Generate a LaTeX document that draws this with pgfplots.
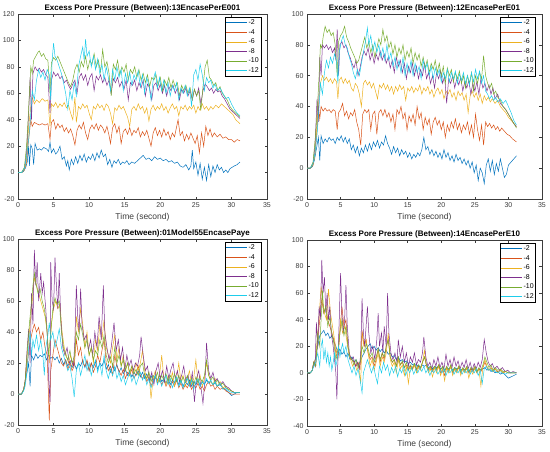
\documentclass[border=0pt]{standalone}
\usepackage{fontspec}
\setmainfont{Liberation Sans}
\usepackage{pgfplots}
\pgfplotsset{compat=1.18}
\definecolor{m1}{RGB}{0,114,189}
\definecolor{m2}{RGB}{217,83,25}
\definecolor{m3}{RGB}{237,177,32}
\definecolor{m4}{RGB}{126,47,142}
\definecolor{m5}{RGB}{119,172,48}
\definecolor{m6}{RGB}{30,205,235}
\definecolor{axc}{RGB}{60,60,60}
\pgfplotscreateplotcyclelist{matlab}{
{m1,line width=0.5pt},{m2,line width=0.5pt},{m3,line width=0.5pt},{m4,line width=0.5pt},{m5,line width=0.5pt},{m6,line width=0.5pt}}
\pgfplotsset{
  every axis title shift=0pt,
  mstyle/.style={
    scale only axis, anchor=south west,
    xmin=0, xmax=35, xtick={0,5,...,35},
    tick align=inside, major tick length=2.5pt,
    axis line style={axc, line width=0.5pt},
    tick style={axc, line width=0.5pt},
    /pgf/number format/assume math mode=true,
    ticklabel style={font=\fontsize{7}{8}\selectfont, text=axc},
    xlabel={Time (second)},
    xlabel style={font=\fontsize{8.5}{9}\selectfont, text=axc, yshift=1pt},
    title style={font=\fontsize{8}{9}\selectfont\bfseries, at={(0.5,1)}, anchor=base, yshift=3.5pt},
    cycle list name=matlab,
    legend entries={-2,-4,-6,-8,-10,-12},
    legend cell align=left,
    legend style={at={(1,1)}, anchor=north east, xshift=-6pt, yshift=-3pt,
      draw=black, line width=0.5pt, font=\fontsize{7}{8}\selectfont,
      inner sep=1pt, row sep=1pt,
      nodes={inner sep=1pt, text height=5.3pt, text depth=1.3pt}},
    legend image code/.code={\draw[#1] (0pt,0pt) -- (21pt,0pt);},
  }
}
\begin{document}
\begin{tikzpicture}
\path[use as bounding box] (0,0) rectangle (550pt,451pt);
% ---------- Panel 1 ----------
\begin{axis}[mstyle, at={(18pt,252pt)}, width=249pt, height=185pt,
  ymin=-20, ymax=120, ytick={-20,0,...,120},
  title={Excess Pore Pressure (Between):13EncasePerE001}]
\addplot coordinates {(0,0)(0.5,0)(0.8,1)(1.1,4)(1.3,8)(1.5,20)(1.6,5)(1.8,21)(2.0,18)(2.2,6)(2.4,22)(2.7,17)(3.0,18)(3.3,17)(3.6,19)(4.0,18)(4.3,16)(4.5,23)(4.7,15)(5.0,18)(5.3,14)(5.6,16)(5.9,20)(6.2,10)(6.5,12)(6.8,5)(7.0,9)(7.2,2)(7.5,10)(7.8,6)(8.1,12)(8.4,7)(8.7,13)(9.0,9)(9.3,14)(9.6,8)(9.9,12)(10.2,10)(10.5,14)(10.8,9)(11.1,15)(11.4,11)(11.7,17)(12.0,12)(12.3,14)(12.6,6)(12.9,10)(13.2,4)(13.5,9)(13.8,7)(14.1,10)(14.4,6)(14.7,8)(15.0,7)(15.3,9)(15.6,6)(16.0,8)(16.4,7)(16.8,9)(17.2,11)(17.6,13)(18.0,10)(18.4,11)(18.8,9)(19.2,12)(19.6,10)(20.0,11)(20.4,9)(20.8,10)(21.2,8)(21.6,9)(22.0,7)(22.4,8)(22.8,5)(23.2,4)(23.6,6)(24.0,2)(24.3,5)(24.5,17)(24.7,3)(25.0,8)(25.3,-2)(25.6,7)(25.9,-5)(26.2,4)(26.5,-6)(26.8,6)(27.1,-3)(27.4,5)(27.7,0)(28.0,6)(28.3,2)(28.6,4)(28.9,0)(29.2,2)(29.5,0)(29.8,3)(30.1,4)(30.4,5)(30.8,6)(31.2,8)};
\addplot coordinates {(0,0)(0.5,0)(0.9,2)(1.2,8)(1.4,20)(1.6,30)(1.8,40)(2.0,35)(2.3,38)(2.6,37)(3.0,36)(3.4,37)(3.8,36)(4.2,37)(4.5,25)(4.7,38)(5.0,40)(5.3,33)(5.6,37)(5.9,34)(6.2,36)(6.5,31)(6.8,34)(7.1,30)(7.4,33)(7.7,28)(8.0,21)(8.3,32)(8.6,36)(8.9,33)(9.2,38)(9.5,30)(9.8,25)(10.1,33)(10.4,36)(10.7,33)(11.0,37)(11.3,32)(11.6,36)(11.9,34)(12.2,30)(12.5,35)(12.8,28)(13.0,22)(13.3,34)(13.6,37)(13.9,30)(14.2,35)(14.5,22)(14.8,31)(15.1,33)(15.4,29)(15.7,34)(16.0,28)(16.3,32)(16.6,30)(16.9,34)(17.2,27)(17.5,31)(17.8,28)(18.1,32)(18.4,26)(18.7,20)(19.0,30)(19.3,34)(19.6,28)(19.9,32)(20.2,27)(20.5,33)(20.8,28)(21.1,31)(21.4,25)(21.7,30)(22.0,27)(22.5,40)(22.8,28)(23.1,31)(23.4,24)(23.7,29)(24.0,25)(24.3,30)(24.6,26)(24.9,22)(25.2,28)(25.5,15)(25.8,30)(26.1,20)(26.4,35)(26.7,28)(27.0,33)(27.3,27)(27.6,30)(28.0,27)(28.4,29)(28.8,26)(29.2,27)(29.6,25)(30.0,25)(30.4,23)(30.8,25)(31.2,24)};
\addplot coordinates {(0,0)(0.5,0)(0.9,2)(1.2,10)(1.5,35)(1.8,50)(2.0,57)(2.3,52)(2.6,55)(3.0,53)(3.4,56)(3.8,54)(4.2,55)(4.5,35)(4.7,52)(5.0,50)(5.3,53)(5.6,49)(5.9,52)(6.2,50)(6.5,53)(6.8,49)(7.1,51)(7.4,45)(7.7,40)(8.0,57)(8.2,38)(8.5,50)(8.8,48)(9.1,52)(9.4,49)(9.7,51)(10.0,45)(10.3,40)(10.6,50)(10.9,48)(11.2,52)(11.5,49)(11.8,51)(12.1,47)(12.4,52)(12.7,50)(13.0,45)(13.3,37)(13.6,49)(13.9,47)(14.2,51)(14.5,48)(14.8,50)(15.1,46)(15.4,42)(15.7,35)(16.0,48)(16.3,50)(16.6,47)(16.9,52)(17.2,48)(17.5,50)(17.8,45)(18.1,49)(18.4,39)(18.7,48)(19.0,51)(19.3,47)(19.6,50)(19.9,48)(20.2,52)(20.5,47)(20.8,50)(21.1,45)(21.4,49)(21.7,52)(22.0,48)(22.3,50)(22.6,43)(22.9,50)(23.2,48)(23.5,51)(23.8,47)(24.1,50)(24.4,48)(24.7,51)(25.0,45)(25.3,50)(25.6,47)(25.9,52)(26.2,48)(26.5,50)(26.8,47)(27.1,50)(27.4,48)(27.8,51)(28.2,49)(28.6,52)(29.0,50)(29.4,48)(29.8,46)(30.2,44)(30.6,40)(31.2,37)};
\addplot coordinates {(0,0)(0.5,0)(0.9,3)(1.2,15)(1.5,45)(1.7,72)(1.9,40)(2.1,75)(2.4,80)(2.7,77)(3.0,79)(3.3,76)(3.6,78)(3.9,74)(4.2,72)(4.5,45)(4.7,70)(5.0,76)(5.3,73)(5.6,75)(5.9,71)(6.2,73)(6.5,68)(6.8,70)(7.1,66)(7.4,63)(7.7,67)(8.0,70)(8.3,60)(8.6,72)(8.9,75)(9.2,70)(9.5,74)(9.8,66)(10.1,72)(10.4,75)(10.7,62)(11.0,73)(11.3,70)(11.6,74)(11.9,68)(12.2,72)(12.5,66)(12.8,70)(13.1,60)(13.4,71)(13.7,68)(14.0,72)(14.3,65)(14.6,69)(14.9,63)(15.2,70)(15.5,55)(15.8,68)(16.1,66)(16.4,70)(16.7,62)(17.0,68)(17.3,64)(17.6,70)(17.9,58)(18.2,67)(18.5,64)(18.8,55)(19.1,66)(19.4,68)(19.7,62)(20.0,67)(20.3,60)(20.6,66)(20.9,58)(21.2,65)(21.5,62)(21.8,66)(22.1,60)(22.4,64)(22.7,55)(23.0,63)(23.3,60)(23.6,64)(23.9,58)(24.2,62)(24.5,55)(24.8,63)(25.1,58)(25.4,64)(25.7,52)(26.0,62)(26.3,67)(26.6,65)(26.9,62)(27.2,64)(27.5,60)(27.8,63)(28.1,61)(28.4,62)(28.7,58)(29.0,56)(29.4,52)(29.8,48)(30.2,46)(30.6,44)(31.2,41)};
\addplot coordinates {(0,0)(0.5,0)(0.9,4)(1.2,20)(1.4,38)(1.6,60)(1.8,80)(2.0,75)(2.2,85)(2.5,88)(2.8,91)(3.0,92)(3.3,88)(3.6,90)(3.9,86)(4.2,85)(4.5,60)(4.7,83)(5.0,87)(5.3,85)(5.6,88)(5.9,84)(6.2,80)(6.5,76)(6.8,72)(7.1,68)(7.4,65)(7.7,70)(8.0,78)(8.3,82)(8.6,76)(8.9,84)(9.2,80)(9.5,88)(9.8,78)(10.1,85)(10.4,82)(10.7,90)(11.0,80)(11.3,85)(11.6,76)(11.9,93)(12.2,80)(12.5,84)(12.8,75)(13.1,58)(13.4,82)(13.7,78)(14.0,85)(14.3,74)(14.6,80)(14.9,76)(15.2,82)(15.5,70)(15.8,78)(16.1,75)(16.4,80)(16.7,72)(17.0,78)(17.3,70)(17.6,75)(17.9,68)(18.2,74)(18.5,65)(18.8,72)(19.1,70)(19.4,74)(19.7,66)(20.0,72)(20.3,62)(20.6,70)(20.9,66)(21.2,72)(21.5,64)(21.8,70)(22.1,65)(22.4,68)(22.7,58)(23.0,66)(23.3,62)(23.6,66)(23.9,60)(24.2,64)(24.5,55)(24.8,63)(25.1,58)(25.4,62)(25.7,47)(26.0,65)(26.3,80)(26.6,85)(26.9,72)(27.2,70)(27.5,66)(27.8,68)(28.1,62)(28.4,65)(28.7,60)(29.0,58)(29.4,55)(29.8,50)(30.2,47)(30.6,45)(31.2,42)};
\addplot coordinates {(0,0)(0.5,0)(0.9,3)(1.2,12)(1.5,25)(1.8,45)(2.0,62)(2.3,55)(2.6,70)(2.9,78)(3.2,72)(3.5,76)(3.8,70)(4.1,78)(4.4,74)(4.6,55)(4.8,85)(5.0,98)(5.2,88)(5.5,85)(5.8,80)(6.1,75)(6.4,68)(6.7,60)(7.0,48)(7.3,62)(7.6,55)(7.9,68)(8.2,58)(8.5,80)(8.8,88)(9.1,95)(9.3,85)(9.5,101)(9.7,88)(10.0,92)(10.3,80)(10.6,88)(10.9,78)(11.2,86)(11.5,75)(11.8,82)(12.1,70)(12.4,80)(12.7,72)(13.0,62)(13.3,78)(13.6,70)(13.9,80)(14.2,72)(14.5,78)(14.8,62)(15.1,75)(15.4,68)(15.7,76)(16.0,66)(16.3,74)(16.6,70)(16.9,77)(17.2,65)(17.5,74)(17.8,60)(18.1,72)(18.4,66)(18.7,55)(19.0,70)(19.3,76)(19.6,64)(19.9,72)(20.2,62)(20.5,70)(20.8,60)(21.1,68)(21.4,58)(21.7,66)(22.0,62)(22.3,68)(22.6,55)(22.9,64)(23.2,60)(23.5,66)(23.8,58)(24.1,64)(24.4,50)(24.7,74)(25.0,78)(25.3,70)(25.6,82)(25.9,74)(26.2,62)(26.5,72)(26.8,68)(27.1,70)(27.4,64)(27.7,67)(28.0,62)(28.4,64)(28.8,60)(29.2,56)(29.6,57)(30.0,52)(30.4,48)(30.8,45)(31.2,43)};
\end{axis}
% ---------- Panel 2 ----------
\begin{axis}[mstyle, at={(307pt,252pt)}, width=235pt, height=185pt,
  ymin=-20, ymax=100, ytick={-20,0,...,100},
  title={Excess Pore Pressure (Between):12EncasePerE01}]
\addplot coordinates {(0,0)(0.5,0)(0.8,1)(1.1,5)(1.3,10)(1.5,15)(1.7,20)(1.9,5)(2.1,21)(2.4,16)(2.7,19)(3.0,17)(3.3,20)(3.6,18)(3.9,19)(4.2,16)(4.5,20)(4.8,18)(5.1,21)(5.4,17)(5.7,20)(6.0,16)(6.3,19)(6.6,12)(6.9,15)(7.2,10)(7.5,14)(7.8,8)(8.1,13)(8.4,10)(8.7,15)(9.0,11)(9.3,16)(9.6,12)(9.9,17)(10.2,14)(10.5,18)(10.8,13)(11.1,17)(11.4,15)(11.7,21)(12.0,16)(12.3,13)(12.6,9)(12.9,14)(13.2,10)(13.5,13)(13.8,8)(14.1,12)(14.4,9)(14.7,11)(15.0,7)(15.3,10)(15.6,6)(15.9,9)(16.2,7)(16.5,10)(16.8,8)(17.1,12)(17.4,20)(17.7,12)(18.0,14)(18.3,9)(18.6,12)(18.9,8)(19.2,11)(19.5,7)(19.8,10)(20.1,6)(20.4,12)(20.7,7)(21.0,10)(21.3,5)(21.6,8)(21.9,4)(22.2,9)(22.5,5)(22.8,7)(23.1,3)(23.4,6)(23.7,2)(24.0,5)(24.3,0)(24.6,4)(24.9,-3)(25.2,2)(25.5,-8)(25.8,0)(26.1,-3)(26.4,-10)(26.7,2)(27.0,6)(27.3,-2)(27.6,5)(27.9,-4)(28.2,3)(28.5,-2)(28.8,6)(29.1,0)(29.4,-6)(29.7,-4)(30.0,2)(30.4,4)(30.8,6)(31.2,8)};
\addplot coordinates {(0,0)(0.5,0)(0.9,2)(1.2,10)(1.5,25)(1.7,40)(1.9,32)(2.1,40)(2.4,37)(2.7,39)(3.0,37)(3.3,38)(3.6,36)(3.9,38)(4.2,37)(4.5,25)(4.7,36)(5.0,38)(5.3,42)(5.6,34)(5.9,37)(6.2,32)(6.5,36)(6.8,34)(7.1,38)(7.4,30)(7.7,25)(8.0,15)(8.3,35)(8.6,38)(8.9,36)(9.2,38)(9.5,25)(9.8,35)(10.1,37)(10.4,22)(10.7,36)(11.0,38)(11.3,34)(11.6,38)(11.9,33)(12.2,36)(12.5,30)(12.8,35)(13.1,25)(13.4,38)(13.7,35)(14.0,40)(14.3,32)(14.6,36)(14.9,25)(15.2,34)(15.5,30)(15.8,35)(16.1,28)(16.4,40)(16.7,32)(17.0,36)(17.3,25)(17.6,33)(17.9,28)(18.2,32)(18.5,22)(18.8,30)(19.1,33)(19.4,28)(19.7,31)(20.0,25)(20.3,30)(20.6,20)(20.9,28)(21.2,24)(21.5,30)(21.8,26)(22.1,32)(22.4,25)(22.7,29)(23.0,23)(23.3,28)(23.6,25)(23.9,30)(24.2,22)(24.5,28)(24.8,20)(25.1,35)(25.4,25)(25.7,18)(26.0,28)(26.3,15)(26.6,30)(26.9,27)(27.2,29)(27.5,26)(27.8,28)(28.1,25)(28.4,27)(28.7,24)(29.0,26)(29.4,24)(29.8,22)(30.2,21)(30.6,19)(31.2,17)};
\addplot coordinates {(0,0)(0.5,0)(0.9,2)(1.2,10)(1.5,30)(1.8,45)(2.0,55)(2.3,60)(2.6,57)(2.9,59)(3.2,56)(3.5,58)(3.8,55)(4.1,58)(4.4,56)(4.6,45)(4.8,57)(5.1,59)(5.4,55)(5.7,58)(6.0,55)(6.3,57)(6.6,52)(6.9,50)(7.2,55)(7.5,53)(7.8,48)(8.1,40)(8.4,55)(8.7,57)(9.0,54)(9.3,56)(9.6,52)(9.9,55)(10.2,50)(10.5,45)(10.8,54)(11.1,52)(11.4,55)(11.7,51)(12.0,54)(12.3,50)(12.6,53)(12.9,48)(13.2,53)(13.5,50)(13.8,54)(14.1,51)(14.4,53)(14.7,44)(15.0,52)(15.3,50)(15.6,53)(15.9,49)(16.2,52)(16.5,50)(16.8,54)(17.1,48)(17.4,52)(17.7,50)(18.0,53)(18.3,48)(18.6,51)(18.9,46)(19.2,50)(19.5,52)(19.8,48)(20.1,51)(20.4,45)(20.7,50)(21.0,48)(21.3,51)(21.6,46)(21.9,49)(22.2,44)(22.5,50)(22.8,47)(23.1,49)(23.4,44)(23.7,48)(24.0,36)(24.3,47)(24.6,50)(24.9,46)(25.2,49)(25.5,44)(25.8,48)(26.1,42)(26.4,47)(26.7,44)(27.0,46)(27.3,43)(27.6,45)(28.0,42)(28.4,44)(28.8,40)(29.2,38)(29.6,36)(30.0,33)(30.4,31)(30.8,29)(31.2,27)};
\addplot coordinates {(0,0)(0.5,0)(0.9,3)(1.2,15)(1.5,45)(1.7,30)(1.9,72)(2.1,60)(2.3,80)(2.6,78)(2.9,80)(3.2,77)(3.5,79)(3.8,75)(4.1,78)(4.3,70)(4.5,90)(4.7,60)(4.9,80)(5.2,82)(5.5,78)(5.8,80)(6.1,75)(6.4,72)(6.7,68)(7.0,65)(7.3,70)(7.6,60)(7.9,65)(8.2,72)(8.5,76)(8.8,73)(9.1,78)(9.4,70)(9.7,75)(10.0,68)(10.3,74)(10.6,70)(10.9,76)(11.2,70)(11.5,74)(11.8,68)(12.1,72)(12.4,65)(12.7,70)(13.0,62)(13.3,72)(13.6,66)(13.9,70)(14.2,62)(14.5,68)(14.8,58)(15.1,66)(15.4,62)(15.7,68)(16.0,60)(16.3,66)(16.6,58)(16.9,64)(17.2,60)(17.5,68)(17.8,58)(18.1,62)(18.4,55)(18.7,60)(19.0,52)(19.3,62)(19.6,58)(19.9,63)(20.2,55)(20.5,60)(20.8,42)(21.1,58)(21.4,55)(21.7,60)(22.0,52)(22.3,58)(22.6,54)(22.9,59)(23.2,50)(23.5,56)(23.8,52)(24.1,57)(24.4,48)(24.7,55)(25.0,50)(25.3,56)(25.6,48)(25.9,58)(26.2,52)(26.5,55)(26.8,50)(27.1,54)(27.4,48)(27.7,52)(28.0,45)(28.4,48)(28.8,42)(29.2,40)(29.6,38)(30.0,35)(30.4,32)(30.8,29)(31.2,27)};
\addplot coordinates {(0,0)(0.5,0)(0.9,4)(1.2,18)(1.5,35)(1.8,60)(2.0,80)(2.2,78)(2.4,85)(2.7,92)(3.0,88)(3.3,90)(3.6,86)(3.9,88)(4.2,80)(4.5,60)(4.7,82)(5.0,86)(5.3,88)(5.6,92)(5.9,85)(6.2,82)(6.5,78)(6.8,75)(7.1,72)(7.4,68)(7.7,70)(8.0,75)(8.3,80)(8.6,85)(8.9,78)(9.2,82)(9.5,75)(9.8,80)(10.1,72)(10.4,78)(10.7,84)(11.0,80)(11.3,90)(11.6,82)(11.9,86)(12.2,78)(12.5,82)(12.8,74)(13.1,80)(13.4,72)(13.7,78)(14.0,74)(14.3,80)(14.6,70)(14.9,76)(15.2,72)(15.5,78)(15.8,68)(16.1,75)(16.4,70)(16.7,74)(17.0,66)(17.3,72)(17.6,65)(17.9,70)(18.2,62)(18.5,68)(18.8,64)(19.1,70)(19.4,62)(19.7,68)(20.0,60)(20.3,66)(20.6,55)(20.9,65)(21.2,60)(21.5,64)(21.8,56)(22.1,62)(22.4,58)(22.7,63)(23.0,55)(23.3,60)(23.6,52)(23.9,60)(24.2,55)(24.5,62)(24.8,50)(25.1,60)(25.4,55)(25.7,62)(26.0,58)(26.3,73)(26.6,60)(26.9,55)(27.2,52)(27.5,55)(27.8,48)(28.1,50)(28.4,46)(28.8,44)(29.2,40)(29.6,38)(30.0,35)(30.4,32)(30.8,29)(31.2,26)};
\addplot coordinates {(0,0)(0.5,0)(0.9,3)(1.2,10)(1.5,22)(1.8,40)(2.0,55)(2.3,48)(2.6,62)(2.9,70)(3.2,65)(3.5,72)(3.8,68)(4.1,74)(4.4,70)(4.6,55)(4.8,75)(5.1,82)(5.4,86)(5.7,80)(6.0,78)(6.3,72)(6.6,68)(6.9,62)(7.2,58)(7.5,64)(7.8,60)(8.1,68)(8.4,75)(8.7,82)(9.0,91)(9.2,80)(9.5,86)(9.8,76)(10.1,82)(10.4,75)(10.7,80)(11.0,72)(11.3,78)(11.6,70)(11.9,80)(12.2,70)(12.5,75)(12.8,66)(13.1,72)(13.4,64)(13.7,70)(14.0,62)(14.3,72)(14.6,60)(14.9,68)(15.2,62)(15.5,70)(15.8,60)(16.1,68)(16.4,62)(16.7,66)(17.0,58)(17.3,70)(17.6,64)(17.9,68)(18.2,60)(18.5,66)(18.8,58)(19.1,65)(19.4,60)(19.7,64)(20.0,56)(20.3,62)(20.6,58)(20.9,64)(21.2,56)(21.5,62)(21.8,58)(22.1,63)(22.4,55)(22.7,61)(23.0,57)(23.3,62)(23.6,55)(23.9,60)(24.2,54)(24.5,62)(24.8,56)(25.1,64)(25.4,58)(25.7,63)(26.0,55)(26.3,60)(26.6,50)(26.9,48)(27.2,45)(27.5,47)(27.8,44)(28.1,46)(28.4,43)(28.8,45)(29.2,42)(29.6,44)(30.0,40)(30.4,36)(30.8,31)(31.2,28)};
\end{axis}
% ---------- Panel 3 ----------
\begin{axis}[mstyle, at={(18pt,26pt)}, width=249pt, height=186pt,
  ymin=-20, ymax=100, ytick={-20,0,...,100},
  title={Excess Pore Pressure (Between):01Model55EncasePaye}]
\addplot coordinates {(0,0)(0.5,0)(0.8,3)(1.0,8)(1.3,15)(1.5,20)(1.7,5)(1.9,25)(2.2,22)(2.5,26)(2.8,23)(3.1,25)(3.4,24)(3.7,26)(4.0,22)(4.3,25)(4.6,23)(4.9,24)(5.2,22)(5.5,24)(5.8,20)(6.1,23)(6.4,19)(6.7,22)(7.0,18)(7.3,21)(7.6,17)(7.9,20)(8.2,16)(8.5,20)(8.8,18)(9.1,22)(9.4,17)(9.7,21)(10.0,15)(10.3,20)(10.6,17)(10.9,21)(11.2,16)(11.5,20)(11.8,18)(12.1,22)(12.4,16)(12.7,19)(13.0,14)(13.3,18)(13.6,15)(13.9,19)(14.2,14)(14.5,17)(14.8,13)(15.1,16)(15.4,12)(15.7,15)(16.0,11)(16.3,14)(16.6,12)(16.9,15)(17.2,11)(17.5,14)(17.8,10)(18.1,13)(18.4,9)(18.7,12)(19.0,8)(19.3,11)(19.6,9)(19.9,12)(20.2,8)(20.5,10)(20.8,7)(21.1,10)(21.4,6)(21.7,9)(22.0,7)(22.3,10)(22.6,6)(22.9,9)(23.2,5)(23.5,8)(23.8,6)(24.1,9)(24.4,5)(24.7,8)(25.0,6)(25.3,9)(25.6,5)(25.9,8)(26.2,6)(26.5,9)(26.8,7)(27.1,8)(27.4,6)(27.7,7)(28.0,5)(28.4,6)(28.8,4)(29.2,3)(29.6,1)(30.0,-1)(30.4,0)(30.8,1)(31.2,1)};
\addplot coordinates {(0,0)(0.5,0)(0.8,3)(1.0,8)(1.3,20)(1.6,30)(1.9,38)(2.1,42)(2.3,45)(2.6,40)(2.9,43)(3.2,35)(3.5,40)(3.8,30)(4.1,25)(4.4,-17)(4.6,15)(4.9,25)(5.2,35)(5.5,30)(5.8,25)(6.1,20)(6.4,18)(6.7,22)(7.0,16)(7.3,20)(7.6,15)(7.9,18)(8.2,35)(8.5,25)(8.8,30)(9.1,20)(9.4,18)(9.7,22)(10.0,15)(10.3,20)(10.6,14)(10.9,18)(11.2,25)(11.5,20)(11.8,28)(12.1,35)(12.4,20)(12.7,15)(13.0,18)(13.3,12)(13.6,25)(13.9,18)(14.2,15)(14.5,12)(14.8,16)(15.1,10)(15.4,14)(15.7,12)(16.0,16)(16.3,10)(16.6,13)(16.9,18)(17.2,12)(17.5,10)(17.8,13)(18.1,8)(18.4,11)(18.7,5)(19.0,9)(19.3,12)(19.6,7)(19.9,10)(20.2,6)(20.5,9)(20.8,5)(21.1,8)(21.4,4)(21.7,8)(22.0,5)(22.3,9)(22.6,4)(22.9,7)(23.2,3)(23.5,6)(23.8,4)(24.1,7)(24.4,3)(24.7,6)(25.0,4)(25.3,7)(25.6,3)(25.9,5)(26.2,2)(26.5,6)(26.8,8)(27.1,5)(27.4,6)(27.7,3)(28.0,5)(28.4,3)(28.8,4)(29.2,2)(29.6,1)(30.0,0)(30.4,0)(30.8,0)(31.2,0)};
\addplot coordinates {(0,0)(0.5,0)(0.8,3)(1.0,8)(1.3,25)(1.6,40)(1.9,55)(2.1,65)(2.3,75)(2.6,70)(2.9,65)(3.2,60)(3.5,55)(3.8,50)(4.1,40)(4.4,20)(4.7,45)(5.0,55)(5.3,60)(5.6,55)(5.9,58)(6.2,40)(6.5,30)(6.8,25)(7.1,20)(7.4,25)(7.7,18)(8.0,25)(8.2,50)(8.5,40)(8.8,55)(9.1,45)(9.4,30)(9.7,40)(10.0,25)(10.3,30)(10.6,20)(10.9,35)(11.2,28)(11.5,45)(11.8,35)(12.1,48)(12.4,30)(12.7,25)(13.0,20)(13.3,30)(13.6,38)(13.9,22)(14.2,30)(14.5,18)(14.8,25)(15.1,15)(15.4,20)(15.7,12)(16.0,18)(16.3,14)(16.6,20)(16.9,15)(17.2,20)(17.5,28)(17.8,15)(18.1,10)(18.4,14)(18.7,-3)(19.0,10)(19.3,15)(19.6,8)(19.9,12)(20.2,25)(20.5,10)(20.8,6)(21.1,12)(21.4,8)(21.7,14)(22.0,5)(22.3,10)(22.6,20)(22.9,8)(23.2,12)(23.5,5)(23.8,10)(24.1,15)(24.4,6)(24.7,10)(25.0,22)(25.3,8)(25.6,12)(25.9,5)(26.2,10)(26.5,20)(26.8,12)(27.1,8)(27.4,6)(27.7,10)(28.0,5)(28.4,8)(28.8,4)(29.2,5)(29.6,3)(30.0,2)(30.4,1)(30.8,1)(31.2,1)};
\addplot coordinates {(0,0)(0.5,0)(0.8,3)(1.0,8)(1.3,30)(1.5,42)(1.7,20)(1.9,65)(2.1,45)(2.3,93)(2.5,70)(2.7,85)(2.9,60)(3.2,78)(3.4,65)(3.6,72)(3.9,55)(4.1,40)(4.3,10)(4.5,-5)(4.6,85)(4.8,60)(5.0,55)(5.2,88)(5.4,70)(5.6,55)(5.8,78)(6.0,50)(6.3,30)(6.6,25)(6.9,30)(7.2,20)(7.5,22)(7.8,18)(8.0,35)(8.2,70)(8.4,50)(8.6,40)(8.8,68)(9.0,45)(9.3,35)(9.6,38)(9.9,28)(10.2,35)(10.5,25)(10.8,40)(11.1,30)(11.4,50)(11.7,35)(12.0,70)(12.2,40)(12.5,30)(12.8,22)(13.1,30)(13.5,46)(13.8,28)(14.1,35)(14.4,22)(14.7,30)(15.0,15)(15.3,25)(15.6,18)(15.9,22)(16.2,15)(16.5,20)(16.8,18)(17.1,25)(17.3,37)(17.6,25)(17.9,15)(18.2,18)(18.5,8)(18.8,14)(19.1,6)(19.4,15)(19.7,20)(20.0,10)(20.3,15)(20.6,8)(20.9,18)(21.2,10)(21.5,16)(21.8,20)(22.1,10)(22.4,15)(22.7,8)(23.0,12)(23.3,18)(23.6,8)(23.9,12)(24.2,5)(24.5,14)(24.8,-5)(25.1,10)(25.4,15)(25.7,5)(26.0,-6)(26.3,10)(26.5,33)(26.8,15)(27.1,10)(27.4,14)(27.7,8)(28.0,10)(28.4,6)(28.8,8)(29.2,5)(29.6,4)(30.0,2)(30.4,1)(30.8,1)(31.2,1)};
\addplot coordinates {(0,0)(0.5,0)(0.8,3)(1.0,8)(1.3,28)(1.6,45)(1.9,60)(2.1,70)(2.3,78)(2.5,72)(2.8,65)(3.1,68)(3.4,60)(3.7,55)(4.0,45)(4.3,25)(4.6,40)(4.9,55)(5.2,62)(5.5,58)(5.8,60)(6.1,40)(6.4,30)(6.7,25)(7.0,22)(7.3,28)(7.6,20)(7.9,24)(8.2,40)(8.5,35)(8.8,45)(9.1,38)(9.4,30)(9.7,35)(10.0,25)(10.3,30)(10.6,22)(10.9,28)(11.2,25)(11.5,35)(11.8,30)(12.1,38)(12.4,25)(12.7,20)(13.0,24)(13.3,18)(13.6,30)(13.9,20)(14.2,25)(14.5,18)(14.8,22)(15.1,15)(15.4,20)(15.7,14)(16.0,18)(16.3,13)(16.6,16)(16.9,12)(17.2,18)(17.5,20)(17.8,12)(18.1,10)(18.4,14)(18.7,8)(19.0,12)(19.3,10)(19.6,14)(19.9,8)(20.2,12)(20.5,9)(20.8,13)(21.1,8)(21.4,12)(21.7,9)(22.0,13)(22.3,8)(22.6,12)(22.9,7)(23.2,11)(23.5,8)(23.8,12)(24.1,7)(24.4,10)(24.7,6)(25.0,11)(25.3,7)(25.6,10)(25.9,8)(26.2,12)(26.5,22)(26.8,12)(27.1,9)(27.4,11)(27.7,7)(28.0,9)(28.4,6)(28.8,7)(29.2,4)(29.6,3)(30.0,2)(30.4,1)(30.8,1)(31.2,1)};
\addplot coordinates {(0,0)(0.5,0)(0.8,2)(1.0,5)(1.3,15)(1.5,30)(1.7,40)(1.9,25)(2.1,35)(2.3,30)(2.6,38)(2.9,28)(3.2,35)(3.5,25)(3.7,12)(3.9,30)(4.2,38)(4.4,46)(4.6,35)(4.9,40)(5.2,30)(5.5,35)(5.8,42)(6.1,30)(6.4,25)(6.7,20)(7.0,15)(7.3,18)(7.6,10)(7.9,-2)(8.2,15)(8.5,20)(8.8,12)(9.1,18)(9.4,25)(9.7,15)(10.0,20)(10.3,12)(10.6,18)(10.9,22)(11.2,14)(11.5,20)(11.8,12)(12.1,25)(12.4,15)(12.7,10)(13.0,16)(13.3,12)(13.6,18)(13.9,10)(14.2,14)(14.5,8)(14.8,12)(15.1,6)(15.4,10)(15.7,14)(16.0,8)(16.3,12)(16.6,6)(16.9,10)(17.2,14)(17.5,9)(17.8,12)(18.1,6)(18.4,10)(18.7,4)(19.0,8)(19.3,12)(19.6,6)(19.9,10)(20.2,5)(20.5,9)(20.8,12)(21.1,6)(21.4,10)(21.7,4)(22.0,8)(22.3,11)(22.6,5)(22.9,9)(23.2,4)(23.5,8)(23.8,10)(24.1,5)(24.4,9)(24.7,3)(25.0,8)(25.3,10)(25.6,5)(25.9,8)(26.2,6)(26.5,10)(26.8,7)(27.1,9)(27.4,6)(27.7,8)(28.0,5)(28.4,7)(28.8,3)(29.2,4)(29.6,2)(30.0,1)(30.4,1)(30.8,1)(31.2,1)};
\end{axis}
% ---------- Panel 4 ----------
\begin{axis}[mstyle, at={(307pt,25pt)}, width=235pt, height=186pt,
  ymin=-40, ymax=100, ytick={-40,-20,...,100},
  title={Excess Pore Pressure (Between):14EncasePerE10}]
\addplot coordinates {(0,0)(0.5,0)(0.8,2)(1.0,6)(1.3,12)(1.6,20)(1.9,28)(2.2,30)(2.5,32)(2.8,28)(3.1,30)(3.4,26)(3.7,28)(4.0,24)(4.3,20)(4.6,15)(4.9,18)(5.2,14)(5.5,16)(5.8,12)(6.1,15)(6.4,10)(6.7,12)(7.0,8)(7.3,10)(7.6,6)(7.9,8)(8.2,12)(8.5,15)(8.8,18)(9.1,20)(9.4,22)(9.7,18)(10.0,20)(10.3,17)(10.6,19)(10.9,16)(11.2,18)(11.5,15)(11.8,17)(12.1,14)(12.4,15)(12.7,12)(13.0,13)(13.3,10)(13.6,12)(13.9,9)(14.2,10)(14.5,8)(14.8,9)(15.1,7)(15.4,8)(15.7,6)(16.0,7)(16.3,5)(16.6,6)(16.9,4)(17.2,6)(17.5,5)(17.8,6)(18.1,4)(18.4,5)(18.7,3)(19.0,5)(19.3,4)(19.6,5)(19.9,3)(20.2,4)(20.5,2)(20.8,4)(21.1,3)(21.4,4)(21.7,2)(22.0,4)(22.3,3)(22.6,4)(22.9,2)(23.2,3)(23.5,2)(23.8,3)(24.1,1)(24.4,3)(24.7,2)(25.0,3)(25.3,1)(25.6,3)(25.9,2)(26.2,3)(26.5,4)(26.8,2)(27.1,3)(27.4,1)(27.7,2)(28.0,0)(28.4,1)(28.8,-1)(29.2,0)(29.6,-2)(30.0,-4)(30.4,-3)(30.8,-2)(31.2,-1)};
\addplot coordinates {(0,0)(0.5,0)(0.8,2)(1.0,8)(1.3,5)(1.6,25)(1.9,40)(2.2,55)(2.5,45)(2.8,50)(3.1,40)(3.4,35)(3.7,30)(4.0,25)(4.3,15)(4.6,10)(4.9,30)(5.2,50)(5.5,35)(5.8,40)(6.1,20)(6.4,12)(6.7,10)(7.0,8)(7.3,5)(7.6,8)(7.9,3)(8.2,32)(8.5,20)(8.8,25)(9.1,15)(9.4,10)(9.7,12)(10.0,5)(10.3,10)(10.6,18)(10.9,8)(11.2,15)(11.5,10)(11.8,20)(12.1,25)(12.4,12)(12.7,8)(13.0,10)(13.3,5)(13.6,12)(13.9,6)(14.2,8)(14.5,4)(14.8,6)(15.1,2)(15.4,5)(15.7,3)(16.0,6)(16.3,2)(16.6,5)(16.9,3)(17.2,8)(17.5,12)(17.8,5)(18.1,2)(18.4,4)(18.7,1)(19.0,4)(19.3,2)(19.6,6)(19.9,0)(20.2,3)(20.5,-2)(20.8,4)(21.1,1)(21.4,5)(21.7,0)(22.0,3)(22.3,1)(22.6,4)(22.9,0)(23.2,3)(23.5,1)(23.8,4)(24.1,0)(24.4,3)(24.7,1)(25.0,4)(25.3,0)(25.6,3)(25.9,1)(26.2,4)(26.5,8)(26.8,4)(27.1,2)(27.4,4)(27.7,1)(28.0,3)(28.4,1)(28.8,2)(29.2,0)(29.6,1)(30.0,0)(30.4,0)(30.8,0)(31.2,0)};
\addplot coordinates {(0,0)(0.5,0)(0.8,2)(1.0,8)(1.3,10)(1.6,30)(1.9,50)(2.1,65)(2.3,55)(2.6,45)(2.9,40)(3.2,63)(3.5,45)(3.8,35)(4.1,25)(4.4,15)(4.7,20)(5.0,40)(5.3,30)(5.6,35)(5.9,25)(6.2,15)(6.5,10)(6.8,5)(7.1,8)(7.4,2)(7.7,5)(8.0,-8)(8.2,30)(8.5,20)(8.8,25)(9.1,15)(9.4,5)(9.7,10)(10.0,2)(10.3,8)(10.6,15)(10.9,5)(11.2,12)(11.5,8)(11.8,15)(12.1,30)(12.4,10)(12.7,5)(13.0,8)(13.3,0)(13.6,10)(13.9,3)(14.2,6)(14.5,-2)(14.8,5)(15.1,-8)(15.4,4)(15.7,2)(16.0,6)(16.3,0)(16.6,4)(16.9,2)(17.2,8)(17.5,17)(17.8,5)(18.1,0)(18.4,3)(18.7,-3)(19.0,4)(19.3,0)(19.6,5)(19.9,-2)(20.2,3)(20.5,-6)(20.8,4)(21.1,0)(21.4,5)(21.7,-2)(22.0,3)(22.3,0)(22.6,5)(22.9,-2)(23.2,3)(23.5,0)(23.8,4)(24.1,-4)(24.4,2)(24.7,-1)(25.0,4)(25.3,0)(25.6,3)(25.9,-10)(26.2,4)(26.5,10)(26.8,5)(27.1,2)(27.4,4)(27.7,1)(28.0,3)(28.4,0)(28.8,2)(29.2,0)(29.6,1)(30.0,0)(30.4,0)(30.8,0)(31.2,0)};
\addplot coordinates {(0,0)(0.5,0)(0.8,2)(1.0,8)(1.2,5)(1.4,38)(1.6,20)(1.8,50)(2.0,40)(2.2,85)(2.4,60)(2.6,72)(2.8,45)(3.0,60)(3.2,40)(3.4,50)(3.6,30)(3.9,20)(4.1,10)(4.3,0)(4.45,-20)(4.6,10)(4.8,40)(5.0,75)(5.2,45)(5.4,30)(5.6,40)(5.8,66)(6.0,35)(6.3,15)(6.6,10)(6.9,12)(7.2,5)(7.5,8)(7.8,3)(8.0,15)(8.2,56)(8.4,30)(8.6,20)(8.8,35)(9.0,50)(9.2,30)(9.5,15)(9.8,20)(10.1,10)(10.4,25)(10.6,45)(10.8,20)(11.1,30)(11.3,15)(11.5,35)(11.8,20)(12.0,60)(12.2,30)(12.5,15)(12.8,10)(13.1,15)(13.4,8)(13.6,25)(13.9,12)(14.2,20)(14.5,8)(14.8,15)(15.1,5)(15.4,12)(15.7,8)(16.0,15)(16.3,6)(16.6,10)(16.9,8)(17.2,15)(17.4,27)(17.7,12)(18.0,5)(18.3,8)(18.6,3)(18.9,10)(19.2,5)(19.5,12)(19.8,4)(20.1,8)(20.4,3)(20.7,14)(21.0,5)(21.3,10)(21.6,4)(21.9,12)(22.2,5)(22.5,9)(22.8,3)(23.1,8)(23.4,4)(23.7,10)(24.0,3)(24.3,8)(24.6,2)(24.9,7)(25.2,3)(25.5,8)(25.8,4)(26.1,10)(26.4,25)(26.7,15)(27.0,8)(27.3,5)(27.6,7)(27.9,3)(28.3,5)(28.7,2)(29.1,4)(29.5,1)(29.9,2)(30.3,0)(30.7,1)(31.2,0)};
\addplot coordinates {(0,0)(0.5,0)(0.8,2)(1.0,8)(1.3,5)(1.6,30)(1.9,20)(2.1,40)(2.3,62)(2.5,45)(2.8,50)(3.1,35)(3.4,42)(3.7,30)(4.0,22)(4.3,10)(4.6,15)(4.9,30)(5.2,40)(5.5,28)(5.8,35)(6.1,20)(6.4,12)(6.7,10)(7.0,6)(7.3,10)(7.6,4)(7.9,8)(8.2,20)(8.5,15)(8.8,22)(9.1,18)(9.4,12)(9.7,15)(10.0,8)(10.3,12)(10.6,18)(10.9,10)(11.2,15)(11.5,12)(11.8,20)(12.1,25)(12.4,12)(12.7,8)(13.0,10)(13.3,5)(13.6,12)(13.9,6)(14.2,9)(14.5,4)(14.8,8)(15.1,3)(15.4,6)(15.7,4)(16.0,7)(16.3,3)(16.6,6)(16.9,4)(17.2,8)(17.5,12)(17.8,6)(18.1,3)(18.4,5)(18.7,2)(19.0,5)(19.3,3)(19.6,6)(19.9,2)(20.2,5)(20.5,1)(20.8,5)(21.1,2)(21.4,6)(21.7,1)(22.0,4)(22.3,2)(22.6,5)(22.9,1)(23.2,4)(23.5,2)(23.8,5)(24.1,1)(24.4,4)(24.7,2)(25.0,5)(25.3,1)(25.6,4)(25.9,2)(26.2,6)(26.5,12)(26.8,8)(27.1,4)(27.4,6)(27.7,2)(28.0,4)(28.4,2)(28.8,3)(29.2,1)(29.6,1)(30.0,0)(30.4,0)(30.8,0)(31.2,0)};
\addplot coordinates {(0,0)(0.5,0)(0.8,2)(1.0,5)(1.3,8)(1.6,15)(1.9,5)(2.1,20)(2.3,25)(2.5,10)(2.7,18)(2.9,8)(3.1,15)(3.3,5)(3.5,12)(3.7,2)(3.9,8)(4.1,15)(4.3,5)(4.5,10)(4.7,20)(4.9,12)(5.1,18)(5.3,22)(5.5,15)(5.8,20)(6.1,10)(6.4,5)(6.7,0)(7.0,5)(7.3,-2)(7.6,3)(7.9,-5)(8.2,-15)(8.4,0)(8.7,5)(9.0,10)(9.3,5)(9.6,0)(9.9,5)(10.2,-2)(10.5,-8)(10.8,5)(11.1,0)(11.4,8)(11.7,2)(12.0,6)(12.3,-2)(12.6,4)(12.9,0)(13.2,5)(13.5,-3)(13.8,3)(14.1,0)(14.4,5)(14.7,-2)(15.0,3)(15.3,0)(15.6,4)(15.9,-1)(16.2,3)(16.5,0)(16.8,4)(17.1,1)(17.4,5)(17.7,0)(18.0,3)(18.3,-2)(18.6,2)(18.9,0)(19.2,3)(19.5,-1)(19.8,2)(20.1,0)(20.4,3)(20.7,-2)(21.0,2)(21.3,0)(21.6,3)(21.9,-1)(22.2,2)(22.5,0)(22.8,3)(23.1,-1)(23.4,2)(23.7,0)(24.0,3)(24.3,-1)(24.6,2)(24.9,0)(25.2,3)(25.5,-2)(25.8,2)(26.1,-8)(26.4,3)(26.7,5)(27.0,2)(27.3,3)(27.6,1)(27.9,2)(28.3,0)(28.7,1)(29.1,0)(29.5,-1)(29.9,0)(30.3,0)(30.7,0)(31.2,0)};
\end{axis}
\end{tikzpicture}
\end{document}
